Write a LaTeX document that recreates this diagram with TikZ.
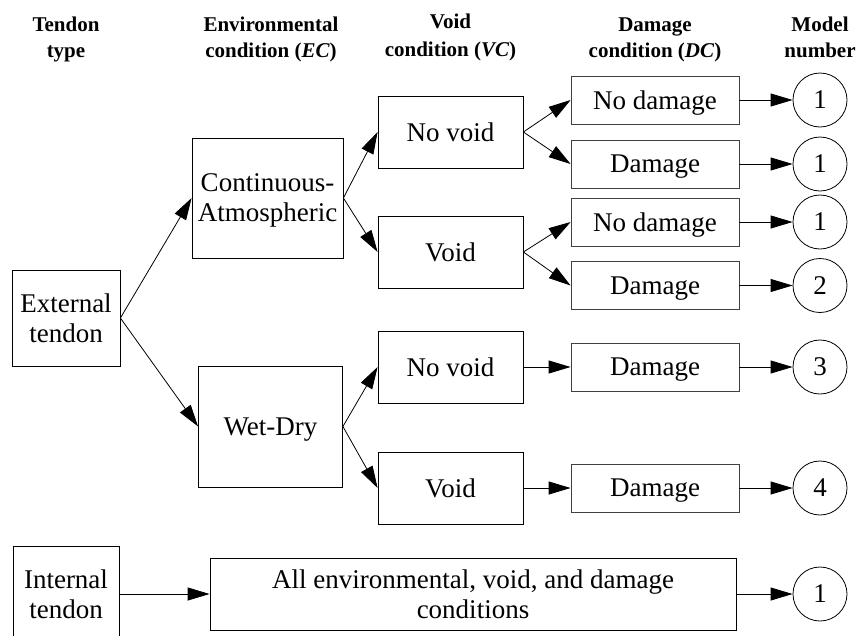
\documentclass[tikz,border=0pt]{standalone}
\usepackage{fontspec}
\setmainfont{Liberation Serif}
\usetikzlibrary{arrows.meta}
\newcommand\mainfnt{\fontsize{27}{30}\selectfont}
\newcommand\headfnt{\fontsize{21}{26}\selectfont\bfseries}
\begin{document}
\begin{tikzpicture}[x=1pt,y=-1pt,
  box/.style={draw, line width=0.8pt, inner sep=0pt, align=center, font=\mainfnt, text depth=0pt},
  dbox/.style={box, draw=black!75, minimum width=168pt, minimum height=48pt},
  vbox/.style={box, minimum width=145pt, minimum height=72pt},
  num/.style={draw, circle, line width=0.8pt, minimum size=54pt, inner sep=0pt, font=\mainfnt, text depth=0pt},
  hd/.style={anchor=base, font=\headfnt, inner sep=0pt},
  arr/.style={-{Triangle[length=22pt,width=13pt]}, line width=0.8pt}]
\useasboundingbox (0,0) rectangle (859,635);
% headers
\node[hd] (h1a) at (66,31) {Tendon};
\node[hd] (h1b) at (66,57) {type};
\node[hd] (h2a) at (271,31) {Environmental};
\node[hd] (h2b) at (271,57) {condition (\textit{EC})};
\node[hd] (h3a) at (450.5,28) {Void};
\node[hd] (h3b) at (450.5,56) {condition (\textit{VC})};
\node[hd] (h4a) at (655,31) {Damage};
\node[hd] (h4b) at (655,57) {condition (\textit{DC})};
\node[hd] (h5a) at (820,31) {Model};
\node[hd] (h5b) at (820,57) {number};
% tendon type
\node[box, minimum width=108pt, minimum height=96pt] (ext) at (66,318) {External\\tendon};
\node[box, minimum width=106pt, minimum height=96pt] (int) at (66,594) {Internal\\tendon};
% environmental condition
\node[box, minimum width=151pt, minimum height=120pt] (ca) at (267.5,198) {Continuous-\\Atmospheric};
\node[box, minimum width=144pt, minimum height=121pt] (wd) at (270.5,426.5) {Wet-Dry};
% void condition
\node[vbox] (nv1) at (450.5,132) {No void};
\node[vbox] (v1) at (450.5,252) {Void};
\node[vbox] (nv2) at (450.5,367) {No void};
\node[vbox] (v2) at (450.5,488) {Void};
% damage condition
\node[dbox] (nd1) at (655,100) {No damage};
\node[dbox] (d1) at (655,164) {Damage};
\node[dbox] (nd2) at (655,222) {No damage};
\node[dbox] (d2) at (655,285.5) {Damage};
\node[dbox] (d3) at (655,367) {Damage};
\node[dbox] (d4) at (655,488) {Damage};
\node[box, minimum width=526pt, minimum height=72pt] (all) at (473,594) {All environmental, void, and damage\\conditions};
% model numbers
\node[num] (m1) at (820,100) {1};
\node[num] (m2) at (820,164) {1};
\node[num] (m3) at (820,222) {1};
\node[num] (m4) at (820,285.5) {2};
\node[num] (m5) at (820,367) {3};
\node[num] (m6) at (820,488) {4};
\node[num] (m7) at (820,594) {1};
% connectors
\draw[arr] (ext.east) -- (ca.west);
\draw[arr] (ext.east) -- (wd.west);
\draw[arr] (ca.east) -- (nv1.west);
\draw[arr] (ca.east) -- (v1.west);
\draw[arr] (wd.east) -- (nv2.west);
\draw[arr] (wd.east) -- (v2.west);
\draw[arr] (nv1.east) -- (nd1.west);
\draw[arr] (nv1.east) -- (d1.west);
\draw[arr] (v1.east) -- (nd2.west);
\draw[arr] (v1.east) -- (d2.west);
\draw[arr] (nv2.east) -- (d3.west);
\draw[arr] (v2.east) -- (d4.west);
\draw[arr] (int.east) -- (all.west);
\draw[arr] (nd1.east) -- (m1.west);
\draw[arr] (d1.east) -- (m2.west);
\draw[arr] (nd2.east) -- (m3.west);
\draw[arr] (d2.east) -- (m4.west);
\draw[arr] (d3.east) -- (m5.west);
\draw[arr] (d4.east) -- (m6.west);
\draw[arr] (all.east) -- (m7.west);
\end{tikzpicture}
\end{document}
